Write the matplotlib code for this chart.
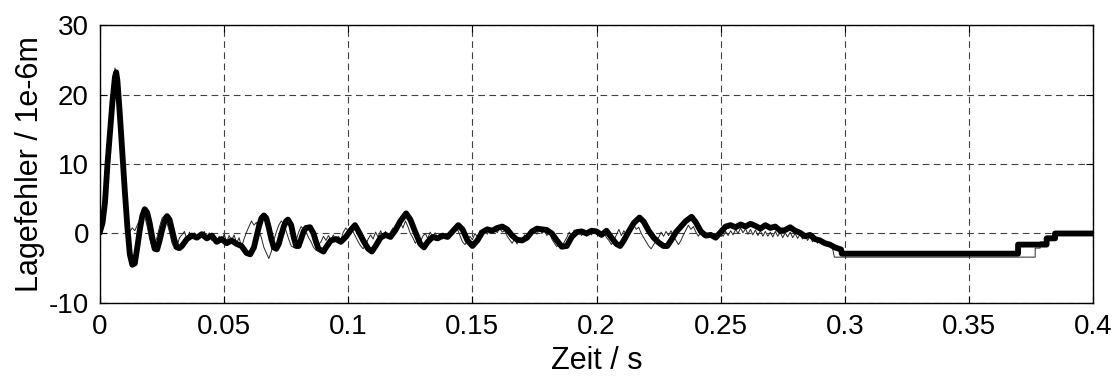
import matplotlib.pyplot as plt
import numpy as np

plt.rcParams['font.family'] = ['Liberation Sans', 'DejaVu Sans']
plt.rcParams['axes.unicode_minus'] = False

# dicke Linie (Lagefehler, Messung 1)
t_dick = [0.000, 0.001, 0.002, 0.003, 0.004, 0.005, 0.006, 0.0065, 0.007, 0.008,
          0.009, 0.010, 0.011, 0.012, 0.013, 0.014, 0.015, 0.016, 0.017, 0.018,
          0.019, 0.020, 0.021, 0.022, 0.023, 0.024, 0.025, 0.026, 0.027, 0.028,
          0.029, 0.030, 0.031, 0.032, 0.033, 0.035, 0.037, 0.039, 0.041, 0.043,
          0.045, 0.047, 0.049, 0.051, 0.053, 0.055, 0.057, 0.059, 0.0605, 0.062,
          0.063, 0.064, 0.065, 0.066, 0.067, 0.068, 0.069, 0.070, 0.071, 0.072,
          0.073, 0.074, 0.075, 0.0757, 0.077, 0.078, 0.079, 0.080, 0.081, 0.082,
          0.083, 0.0846, 0.086, 0.087, 0.088, 0.090, 0.091, 0.093, 0.095, 0.097,
          0.099, 0.101, 0.1027, 0.104, 0.106, 0.108, 0.1095, 0.111, 0.113, 0.115,
          0.117, 0.119, 0.121, 0.1233, 0.125, 0.127, 0.129, 0.1305, 0.132, 0.134,
          0.136, 0.138, 0.140, 0.142, 0.1443, 0.146, 0.148, 0.150, 0.152, 0.154,
          0.156, 0.158, 0.160, 0.162, 0.164, 0.166, 0.168, 0.170, 0.172, 0.174,
          0.176, 0.178, 0.180, 0.182, 0.184, 0.186, 0.188, 0.190, 0.192, 0.194,
          0.196, 0.198, 0.200, 0.202, 0.204, 0.206, 0.208, 0.2095, 0.211, 0.213,
          0.215, 0.2173, 0.219, 0.221, 0.223, 0.225, 0.227, 0.2285, 0.230, 0.232,
          0.234, 0.236, 0.2383, 0.240, 0.242, 0.244, 0.246, 0.248, 0.250, 0.252,
          0.254, 0.256, 0.258, 0.260, 0.262, 0.264, 0.266, 0.268, 0.270, 0.272,
          0.274, 0.276, 0.278, 0.280, 0.282, 0.284, 0.286, 0.288, 0.290, 0.292,
          0.294, 0.296, 0.2985, 0.2988, 0.3698, 0.3698, 0.3813, 0.3813, 0.3847, 0.3847,
          0.400]
v_dick = [0.3, 1.5, 4.5, 10.0, 14.5, 19.0, 22.5, 23.2, 22.0, 17.0,
          11.5, 6.0, 1.0, -3.0, -4.5, -4.3, -2.0, 0.5, 2.5, 3.5,
          3.0, 1.5, -0.5, -2.2, -2.3, -1.0, 0.5, 1.8, 2.5, 2.0,
          0.5, -1.0, -2.0, -2.1, -1.8, -0.8, -0.3, -0.6, -0.1, -0.7,
          -0.3, -1.2, -0.8, -1.4, -1.0, -1.5, -1.8, -2.8, -3.0, -2.0,
          -0.5, 1.0, 2.2, 2.6, 2.2, 0.8, -0.8, -2.0, -2.2, -1.5,
          -0.2, 1.0, 1.8, 2.0, 1.2, -0.5, -1.8, -1.8, -0.8, 0.3,
          0.8, 0.9, 0.0, -1.2, -2.2, -2.6, -2.0, -1.0, -0.8, -1.2,
          -0.5, 0.5, 1.2, 0.4, -1.0, -2.2, -2.6, -1.8, -0.6, -0.2,
          -0.5, 0.5, 1.8, 2.9, 2.0, 0.2, -1.5, -2.0, -1.2, -0.5,
          -0.7, -0.3, -0.5, 0.3, 1.2, 0.6, -1.0, -1.8, -1.0, 0.2,
          0.6, 0.4, 0.8, 1.0, 0.6, -0.3, -0.9, -1.0, -0.6, 0.3,
          0.7, 0.6, 0.5, 0.0, -1.0, -1.9, -1.8, -0.5, 0.2, 0.3,
          0.0, 0.4, 0.3, -0.2, 0.4, -0.6, -1.5, -1.8, -1.0, 0.3,
          1.5, 2.3, 1.7, 0.4, -0.6, -1.3, -1.8, -1.8, -1.0, 0.2,
          1.0, 1.8, 2.4, 1.6, 0.3, -0.3, -0.2, -0.6, 0.2, 1.0,
          1.2, 0.9, 1.3, 1.0, 1.4, 1.1, 0.7, 1.2, 0.8, 1.0,
          0.4, 0.5, 0.9, 0.4, 0.1, -0.4, -0.2, -0.8, -1.0, -1.4,
          -1.6, -2.0, -2.3, -2.9, -2.9, -1.6, -1.6, -0.7, -0.7, 0.0,
          0.0]

# duenne Linie (Messung 2), Abtastung 1 ms bis 0.295 s
v_duenn = [0.5, 2.0, 5.0, 10.5, 15.0, 19.5, 23.8, 22.5, 17.0, 11.0,
           5.5, 1.5, 0.3, 0.8, 0.4, 1.2, 2.0, 3.4, 2.5, 1.0,
           -0.8, -2.0, -1.6, -0.5, 1.0, 2.2, 2.6, 1.5, 0.2, -1.4,
           -2.2, -1.8, -0.6, -0.2, 0.3, -0.9, 0.2, -0.6, 0.1, -0.8,
           0.0, -0.5, 0.3, -0.7, 0.1, -1.0, -0.2, -1.3, -0.4, -1.1,
           -0.1, -1.2, -0.3, -1.0, -0.2, -1.4, -0.6, -1.9, -0.8, 0.2,
           1.0, 1.8, 1.2, 1.6, 0.4, -0.6, -2.0, -2.8, -3.6, -2.6,
           -1.0, 0.2, 1.2, 1.8, 1.4, 0.3, -0.8, -1.8, -2.0, -1.0,
           0.2, 1.0, 0.6, 0.2, -0.6, -1.2, -2.0, -2.4, -1.6, -1.2,
           -0.4, -1.0, -0.3, -0.9, -0.2, -1.1, -0.4, -0.9, 0.2, 0.8,
           0.3, 1.0, 0.2, -0.5, -1.2, -1.8, -2.2, -1.6, -0.8, -0.2,
           -0.8, 0.2, -0.5, 0.4, -0.4, 0.3, -0.5, 0.2, 0.8, 0.3,
           1.2, 1.6, 0.8, 1.8, 1.0, 0.0, -0.6, -1.4, -0.8, -1.2,
           -0.4, 0.0, -0.7, 0.2, -0.5, 0.1, -0.6, 0.0, -0.8, -0.1,
           -0.6, 0.2, 0.8, 0.3, 0.6, -0.3, -1.2, -1.6, -1.0, -0.4,
           -0.9, 0.0, -0.5, 0.4, -0.2, 0.5, -0.1, 0.6, 0.0, 0.7,
           0.1, 0.8, 0.2, 0.4, -0.4, -0.9, -1.4, -0.8, -1.5, -0.7,
           -1.2, -0.2, -0.6, 0.3, -0.2, 0.5, -0.1, 0.6, 0.0, 0.5,
           -0.3, 0.2, -0.8, -1.4, -1.9, -1.5, -2.0, -1.2, -0.6, 0.2,
           -0.3, 0.5, -0.2, 0.4, -0.3, 0.3, -0.4, 0.5, -0.2, 0.6,
           -0.1, 0.4, -0.5, 0.1, -0.6, -1.0, -1.6, -1.0, -0.2, 0.6,
           -0.3, 0.4, -0.2, 0.8, 0.3, 1.2, 0.6, 0.9, 0.0, -0.6,
           -1.2, -1.8, -2.2, -1.6, -1.0, -0.6, 0.2, -0.4, 0.3, -0.3,
           0.4, -0.4, -1.0, -1.6, -1.0, -0.2, 0.5, 1.2, 0.6, 1.0,
           0.2, -0.4, 0.2, -0.5, 0.1, -0.6, 0.0, -0.7, -0.1, -0.6,
           0.1, -0.4, 0.3, -0.3, 0.4, -0.2, 0.6, 0.0, 0.8, 0.1,
           0.7, -0.1, 0.6, -0.2, 0.5, -0.3, 0.4, -0.4, 0.3, -0.4,
           0.2, -0.5, 0.3, -0.4, 0.2, -0.6, 0.1, -0.5, 0.2, -0.6,
           0.0, -0.7, -0.1, -0.8, -0.2, -1.0, -0.4, -1.2, -0.6, -1.4,
           -0.8, -1.6, -1.0, -1.8, -1.3, -2.0]
# Treppe am Ende der duennen Linie
t_duenn_ende = [0.2958, 0.3767, 0.3767, 0.3787, 0.3787, 0.3813, 0.3813, 0.3839, 0.3839, 0.400]
v_duenn_ende = [-3.4, -3.4, -2.1, -2.1, -1.2, -1.2, -0.4, -0.4, 0.0, 0.0]

x_ticks = [0, 0.05, 0.1, 0.15, 0.2, 0.25, 0.3, 0.35, 0.4]
x_labels = ['0', '0.05', '0.1', '0.15', '0.2', '0.25', '0.3', '0.35', '0.4']
y_ticks = [-10, 0, 10, 20, 30]

t_duenn = np.concatenate([np.arange(len(v_duenn)) * 0.001, t_duenn_ende])
v_duenn_all = np.concatenate([v_duenn, v_duenn_ende])

fig = plt.figure(figsize=(11.19, 3.83), dpi=100)
ax = fig.add_axes([0.0894, 0.2089, 0.8874, 0.7258])

ax.plot(t_duenn, v_duenn_all, color='0.15', lw=0.7, zorder=3)
ax.plot(t_dick, v_dick, color='black', lw=4.2, solid_joinstyle='round', zorder=4)

ax.set_xlim(0, 0.4)
ax.set_ylim(-10, 30)
ax.set_xticks(x_ticks)
ax.set_xticklabels(x_labels)
ax.set_yticks(y_ticks)
ax.grid(True, color='0.25', linestyle=(0, (6, 4)), lw=0.8)
ax.tick_params(direction='in', length=5, top=True, right=True, labelsize=20, pad=8)
for s in ax.spines.values():
    s.set_linewidth(1.0)

ax.set_xlabel('Zeit / s', fontsize=22, labelpad=4)
ax.set_ylabel('Lagefehler / 1e-6m', fontsize=22, labelpad=3)

fig.savefig('out.png', dpi=100)
